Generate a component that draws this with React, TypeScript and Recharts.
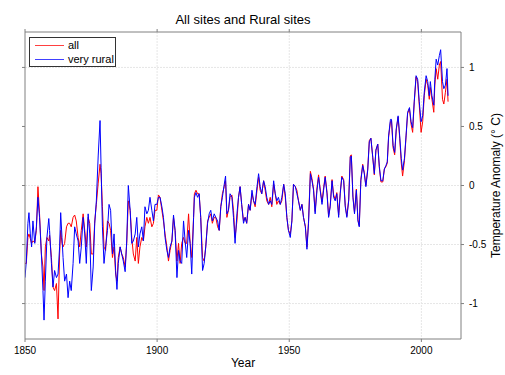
import React from 'react';
import { LineChart, Line, XAxis, YAxis, CartesianGrid, Legend } from 'recharts';

const years = [
  1850.0, 1850.5, 1851.1, 1851.5, 1852.0, 1852.5, 1853.0, 1853.7, 1854.3, 1854.9,
  1855.5, 1856.2, 1856.8, 1857.2, 1857.7, 1858.3, 1859.0, 1859.3, 1860.0, 1860.6,
  1861.2, 1861.9, 1862.5, 1863.1, 1863.5, 1864.0, 1864.4, 1865.0, 1865.7, 1866.3,
  1866.9, 1867.5, 1868.2, 1868.8, 1869.4, 1870.1, 1870.7, 1871.3, 1872.0, 1872.6,
  1873.2, 1873.9, 1874.5, 1875.1, 1875.8, 1876.4, 1877.0, 1877.7, 1878.4, 1878.8,
  1879.3, 1879.9,
  1880.5, 1881.2, 1881.8, 1882.4, 1883.1, 1883.7, 1884.3, 1884.8, 1885.3, 1886.0,
  1886.6, 1887.2, 1887.9, 1888.5, 1889.1, 1889.8, 1890.4, 1891.0, 1891.7, 1892.3,
  1892.9, 1893.5, 1894.2, 1894.8, 1895.4, 1896.1, 1896.7, 1897.3, 1898.0, 1898.6,
  1899.2, 1899.9, 1900.5, 1901.1, 1901.8,
  1902.4, 1903.0, 1903.7, 1904.3, 1904.9, 1905.6, 1906.2, 1906.8, 1907.5, 1908.1,
  1908.7, 1909.3, 1910.0, 1910.6, 1911.2, 1911.9, 1912.5, 1913.1, 1913.8, 1914.1,
  1914.7, 1915.3, 1915.9, 1916.5, 1917.2, 1917.8, 1918.4, 1919.1, 1919.7, 1920.3,
  1920.9, 1921.6, 1922.2, 1922.9, 1923.5, 1924.1, 1924.7, 1925.4, 1925.9, 1926.4,
  1927.0, 1927.6, 1928.3, 1928.9, 1929.5, 1930.2, 1930.8, 1931.4, 1932.0, 1932.7,
  1933.3, 1933.9, 1934.6, 1935.2, 1935.9, 1936.5, 1937.1, 1937.8, 1938.4, 1939.0,
  1939.6, 1940.3, 1940.9, 1941.5, 1942.2, 1942.8, 1943.4, 1944.1, 1944.7, 1945.3,
  1945.9, 1946.6, 1947.2, 1947.9, 1948.5, 1949.1, 1949.7, 1950.4, 1951.0, 1951.6,
  1952.3, 1952.9, 1953.5, 1954.2, 1954.8, 1955.4, 1956.1,
  1956.7, 1957.3, 1958.0, 1958.6, 1959.2, 1959.8, 1960.5, 1961.1, 1961.7, 1962.4,
  1963.0, 1963.6, 1964.3, 1964.9, 1965.5, 1966.2, 1966.8, 1967.4, 1968.0, 1968.7,
  1969.3, 1969.9, 1970.6, 1971.2, 1971.8, 1972.5, 1973.1, 1973.5, 1974.1, 1974.7,
  1975.4, 1976.0, 1976.5, 1977.1, 1977.8, 1978.4, 1979.0, 1979.7, 1980.3, 1980.9,
  1981.6, 1982.2, 1982.8, 1983.5, 1984.1, 1984.7, 1985.4,
  1986.0, 1986.6, 1987.1, 1987.6, 1988.3, 1988.7, 1989.3, 1989.9, 1990.5, 1991.2,
  1991.8, 1992.4, 1992.9, 1993.6, 1994.2, 1994.8, 1995.5, 1996.1, 1996.7, 1997.3,
  1998.0, 1998.6, 1999.2, 1999.9, 2000.5, 2001.1, 2001.8, 2002.4, 2003.0, 2003.4,
  2004.0, 2004.7, 2005.1, 2005.6, 2006.2, 2006.8, 2007.3, 2008.0, 2008.5, 2009.1,
  2009.7, 2010.1,
];

const allSites = [
  -0.66, -0.66, -0.44, -0.41, -0.45, -0.49, -0.47, -0.48, -0.38, -0.01,
  -0.24, -0.58, -0.69, -0.89, -0.52, -0.44, -0.47, -0.42, -0.61, -0.86,
  -0.89, -0.83, -1.13, -0.58, -0.38, -0.49, -0.52, -0.49, -0.35, -0.32,
  -0.32, -0.35, -0.27, -0.25, -0.30, -0.44, -0.52, -0.38, -0.24, -0.38,
  -0.52, -0.27, -0.32, -0.58, -0.58, -0.30, -0.16, 0.02, 0.18, 0.10,
  -0.18, -0.52,
  -0.55, -0.30, -0.32, -0.38, -0.61, -0.52, -0.75, -0.81, -0.61, -0.52,
  -0.58, -0.61, -0.69, -0.49, -0.13, -0.21, -0.44, -0.58, -0.64, -0.44,
  -0.66, -0.52, -0.44, -0.47, -0.35, -0.27, -0.32, -0.27, -0.35, -0.32,
  -0.21, -0.21, -0.08, -0.10, -0.21,
  -0.30, -0.41, -0.52, -0.64, -0.55, -0.47, -0.27, -0.38, -0.64, -0.49,
  -0.66, -0.49, -0.44, -0.49, -0.49, -0.24, -0.49, -0.61, -0.27, -0.07,
  -0.04, -0.07, -0.07, -0.27, -0.61, -0.64, -0.52, -0.30, -0.27, -0.24,
  -0.32, -0.27, -0.27, -0.35, -0.38, -0.18, -0.07, -0.01, 0.04, -0.27,
  -0.21, -0.10, -0.08, -0.21, -0.44, -0.30, -0.10, -0.01, -0.16, -0.30,
  -0.27, -0.32, -0.16, -0.21, -0.07, -0.13, -0.18, -0.04, 0.07, -0.04,
  -0.07, 0.04, -0.04, -0.13, -0.16, -0.10, -0.18, 0.01, -0.07, -0.16,
  -0.13, -0.16, -0.13, 0.01, -0.10, -0.27, -0.38, -0.41, -0.30, 0.01,
  -0.01, -0.04, -0.13, -0.21, -0.16, -0.27, -0.35,
  -0.52, -0.30, 0.12, 0.06, -0.03, -0.22, -0.02, 0.09, -0.03, -0.14,
  -0.02, 0.08, -0.06, -0.26, -0.17, 0.05, -0.08, -0.12, -0.06, -0.25,
  -0.06, 0.08, 0.05, -0.17, -0.26, -0.12, 0.25, 0.26, -0.09, -0.23,
  -0.03, -0.29, -0.34, 0.05, 0.18, 0.11, 0.00, 0.14, 0.38, 0.40,
  0.24, 0.09, 0.30, 0.35, 0.15, 0.03, 0.03,
  0.14, 0.16, 0.19, 0.41, 0.54, 0.55, 0.32, 0.26, 0.47, 0.58,
  0.40, 0.19, 0.08, 0.21, 0.41, 0.61, 0.65, 0.52, 0.45, 0.70,
  0.92, 0.88, 0.68, 0.45, 0.54, 0.76, 0.90, 0.85, 0.73, 0.83,
  0.73, 0.62, 0.85, 0.99, 0.90, 1.02, 1.05, 0.73, 0.69, 0.79,
  0.90, 0.71,
];

const ruralSites = [
  -0.78, -0.64, -0.32, -0.23, -0.41, -0.52, -0.30, -0.49, -0.35, -0.10,
  -0.27, -0.58, -0.89, -1.14, -0.81, -0.44, -0.28, -0.38, -0.66, -0.86,
  -0.72, -0.78, -0.75, -0.52, -0.23, -0.44, -0.61, -0.81, -0.75, -0.95,
  -0.81, -0.89, -0.66, -0.35, -0.41, -0.47, -0.66, -0.52, -0.27, -0.41,
  -0.66, -0.24, -0.41, -0.89, -0.69, -0.32, -0.13, 0.25, 0.55, 0.15,
  -0.35, -0.66,
  -0.52, -0.38, -0.16, -0.21, -0.58, -0.41, -0.72, -0.88, -0.66, -0.52,
  -0.58, -0.64, -0.73, -0.47, 0.00, -0.21, -0.49, -0.47, -0.41, -0.27,
  -0.52, -0.41, -0.35, -0.47, -0.18, -0.24, -0.21, -0.10, -0.21, -0.30,
  -0.16, -0.16, -0.10, -0.10, -0.18,
  -0.27, -0.44, -0.55, -0.61, -0.52, -0.47, -0.25, -0.38, -0.78, -0.55,
  -0.64, -0.66, -0.30, -0.47, -0.61, -0.38, -0.49, -0.75, -0.27, -0.10,
  -0.06, -0.10, -0.07, -0.27, -0.72, -0.66, -0.52, -0.32, -0.24, -0.21,
  -0.30, -0.24, -0.27, -0.30, -0.38, -0.18, -0.10, 0.01, 0.08, -0.24,
  -0.21, -0.07, -0.10, -0.27, -0.49, -0.24, -0.10, -0.01, -0.16, -0.32,
  -0.27, -0.32, -0.16, -0.21, -0.04, -0.13, -0.16, -0.01, 0.10, -0.01,
  -0.07, 0.04, -0.01, -0.10, -0.16, -0.13, -0.16, 0.04, -0.07, -0.13,
  -0.10, -0.16, -0.10, 0.01, -0.07, -0.27, -0.38, -0.44, -0.30, 0.01,
  -0.01, -0.07, -0.13, -0.21, -0.16, -0.27, -0.35,
  -0.54, -0.32, 0.10, 0.04, -0.04, -0.24, -0.04, 0.07, -0.04, -0.16,
  -0.04, 0.07, -0.07, -0.27, -0.18, 0.04, -0.10, -0.13, -0.07, -0.27,
  -0.07, 0.07, 0.04, -0.18, -0.27, -0.13, 0.24, 0.25, -0.10, -0.24,
  -0.04, -0.30, -0.35, 0.04, 0.17, 0.10, -0.01, 0.13, 0.37, 0.40,
  0.24, 0.10, 0.30, 0.35, 0.16, 0.04, 0.04,
  0.14, 0.17, 0.20, 0.42, 0.56, 0.56, 0.34, 0.28, 0.48, 0.59,
  0.42, 0.23, 0.13, 0.23, 0.42, 0.62, 0.66, 0.54, 0.49, 0.71,
  0.93, 0.90, 0.71, 0.54, 0.59, 0.79, 0.93, 0.88, 0.76, 0.88,
  0.76, 0.68, 0.90, 1.07, 1.02, 1.10, 1.15, 0.88, 0.82, 0.85,
  0.99, 0.76,
];

const xTicks = [1850, 1900, 1950, 2000];
const yTicks = [-1, -0.5, 0, 0.5, 1];
const gridYValues = [-1, -0.5, 0, 1];
const seriesNames = { all: 'all', rural: 'very rural' };
const title = 'All sites and Rural sites';
const xLabel = 'Year';
const yLabel = 'Temperature Anomaly (\u00B0 C)';

const data = years.map((year, i) => ({ year, all: allSites[i], rural: ruralSites[i] }));

const FONT = '"Liberation Sans", Arial, Helvetica, sans-serif';
const AXIS = '#808080';
const RED = '#ff0000';
const BLUE = '#0000ff';

const LegendBox = () => (
  <div
    style={{
      border: '1px solid #333',
      background: '#fff',
      width: 85,
      height: 28,
      fontFamily: FONT,
      fontSize: 11,
      color: '#000',
      position: 'relative',
      boxSizing: 'content-box',
    }}
  >
    {[
      { name: seriesNames.all, color: RED, top: 1 },
      { name: seriesNames.rural, color: BLUE, top: 15 },
    ].map((r) => (
      <div key={r.name} style={{ position: 'absolute', left: 5, top: r.top, height: 13, width: 80 }}>
        <div style={{ position: 'absolute', left: 0, top: 6, width: 29, height: 1, background: r.color, opacity: 0.75 }} />
        <span style={{ position: 'absolute', left: 33, top: 0, lineHeight: '13px', whiteSpace: 'nowrap' }}>{r.name}</span>
      </div>
    ))}
  </div>
);

const XLabel = (props: any) => {
  const vb = props.viewBox || {};
  return (
    <text x={vb.x + vb.width / 2} y={vb.y + 28} textAnchor="middle" fontSize={12} fontFamily={FONT} fill="#000">
      {xLabel}
    </text>
  );
};

const YLabel = (props: any) => {
  const vb = props.viewBox || {};
  const cx = vb.x + 35;
  const cy = vb.y + vb.height / 2;
  return (
    <text
      x={cx}
      y={cy}
      textAnchor="middle"
      dominantBaseline="central"
      transform={`rotate(-90 ${cx} ${cy})`}
      fontSize={12}
      fontFamily={FONT}
      fill="#000"
    >
      {yLabel}
    </text>
  );
};

export default function App() {
  return (
    <div style={{ position: 'absolute', left: 0, top: 0, width: 505, height: 375, background: '#fff', fontFamily: FONT }}>
      <div style={{ position: 'absolute', left: 0, top: 12, width: 486, textAlign: 'center', fontSize: 13, color: '#000', lineHeight: '15px' }}>
        {title}
      </div>
      <LineChart width={505} height={375} data={data} margin={{ top: 28, right: 4, bottom: 0, left: 0 }}>
        <CartesianGrid
          xAxisId="bottom"
          yAxisId="right"
          stroke="#e6e6e6"
          strokeDasharray="2 1"
          verticalValues={[1900, 1950, 2000]}
          horizontalValues={gridYValues}
        />
        <XAxis
          xAxisId="bottom"
          dataKey="year"
          type="number"
          domain={[1850, 2015]}
          ticks={xTicks}
          allowDataOverflow
          height={36}
          tickSize={3}
          tickMargin={5}
          stroke={AXIS}
          tick={{ fill: '#000', fontSize: 10, fontFamily: FONT }}
          label={<XLabel />}
        />
        <XAxis
          xAxisId="top"
          orientation="top"
          dataKey="year"
          type="number"
          domain={[1850, 2015]}
          ticks={xTicks}
          allowDataOverflow
          height={4}
          tickSize={3}
          stroke={AXIS}
          tickFormatter={() => ''}
        />
        <YAxis
          yAxisId="right"
          orientation="right"
          type="number"
          domain={[-1.3, 1.3]}
          ticks={yTicks}
          allowDataOverflow
          width={40}
          tickSize={3}
          tickMargin={5}
          stroke={AXIS}
          tick={{ fill: '#000', fontSize: 10, fontFamily: FONT, textAnchor: 'start' }}
          label={<YLabel />}
        />
        <YAxis
          yAxisId="left"
          orientation="left"
          type="number"
          domain={[-1.3, 1.3]}
          ticks={yTicks}
          allowDataOverflow
          width={25}
          tickSize={3}
          stroke={AXIS}
          tickFormatter={() => ''}
        />
        <Legend
          layout="vertical"
          align="center"
          verticalAlign="middle"
          content={() => <LegendBox />}
          wrapperStyle={{ left: 29, top: 37, width: 87, height: 30 }}
        />
        <Line
          xAxisId="bottom"
          yAxisId="right"
          type="linear"
          dataKey="all"
          name={seriesNames.all}
          stroke={RED}
          strokeWidth={1}
          dot={false}
          isAnimationActive={false}
        />
        <Line
          xAxisId="bottom"
          yAxisId="right"
          type="linear"
          dataKey="rural"
          name={seriesNames.rural}
          stroke={BLUE}
          strokeWidth={1}
          dot={false}
          isAnimationActive={false}
        />
      </LineChart>
    </div>
  );
}
